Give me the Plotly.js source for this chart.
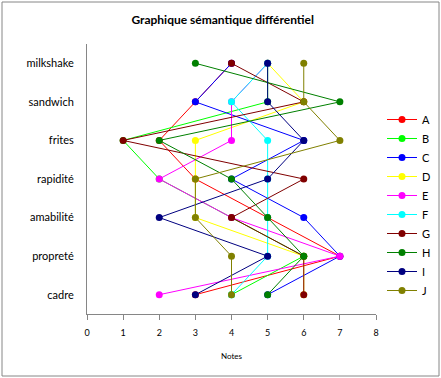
<!DOCTYPE html>
<html><head><meta charset="utf-8">
<script src="https://cdn.plot.ly/plotly-3.0.1.min.js"></script>
<style>html,body{margin:0;padding:0;background:#fff}#chart{width:441px;height:378px}</style>
</head><body><div id="chart"></div>
<script>
var categories = ['milkshake','sandwich','frites','rapidité','amabilité','propreté','cadre'];
var seriesNames = ['A','B','C','D','E','F','G','H','I','J'];
var A = [4,3,2,3,5,7,3];
var B = [5,5,1,2,4,6,4];
var C = [4,3,6,4,6,7,5];
var D = [5,6,3,3,3,6,6];
var E = [5,4,4,2,4,7,2];
var F = [5,4,5,5,5,5,4];
var G = [4,6,1,6,4,6,6];
var H = [3,7,2,4,5,6,5];
var I = [5,5,6,5,2,5,3];
var J = [6,6,7,3,3,4,4];
var xTicks = [0,1,2,3,4,5,6,7,8];

var values = [A,B,C,D,E,F,G,H,I,J];
var colors = ['#FF0000','#00FF00','#0000FF','#FFFF00','#FF00FF','#00FFFF','#800000','#008000','#000080','#808000'];

var traces = values.map(function(v,i){
  return {type:'scatter',mode:'lines+markers',name:seriesNames[i],x:v,y:categories,
    line:{color:colors[i],width:1},marker:{color:colors[i],size:7}};
});

var L=87,R=376,T=44,Bt=314;
function px(x){return (x-L)/(R-L);} function py(y){return (Bt-y)/(Bt-T);}

var layout = {
  width:441,height:378,
  margin:{l:L,r:441-R,t:T,b:378-Bt,autoexpand:false},
  paper_bgcolor:'#fff',plot_bgcolor:'#fff',
  font:{family:'Lato, "Liberation Sans", sans-serif',color:'#000'},
  title:{text:'<b>Graphique sémantique différentiel</b>',font:{size:12,family:'Lato, sans-serif',color:'#000'},x:0.505,xanchor:'center',y:1-20/378,yanchor:'middle'},
  xaxis:{range:[0,8],tickvals:xTicks,ticktext:xTicks.map(String),showgrid:false,zeroline:false,
    showline:true,linecolor:'#868686',linewidth:1,ticks:'outside',ticklen:5,tickcolor:'#868686',
    tickfont:{size:9},ticklabelstandoff:5,title:{text:'Notes',font:{size:8},standoff:16}},
  yaxis:{type:'category',categoryorder:'array',categoryarray:categories.slice().reverse(),range:[-0.5,6.5],
    showgrid:false,zeroline:false,showline:true,linecolor:'#868686',linewidth:1,ticks:'',
    tickfont:{size:11},ticklabelstandoff:10},
  showlegend:true,
  legend:{x:px(382),xanchor:'left',y:py(105),yanchor:'top',font:{size:11},bgcolor:'rgba(0,0,0,0)',borderwidth:0},
  shapes:[{type:'rect',xref:'paper',yref:'paper',x0:px(2),x1:px(439),y0:py(376),y1:py(2),line:{color:'#868686',width:1},layer:'below'}]
};
Plotly.newPlot('chart',traces,layout,{displayModeBar:false,staticPlot:true});
</script></body></html>
